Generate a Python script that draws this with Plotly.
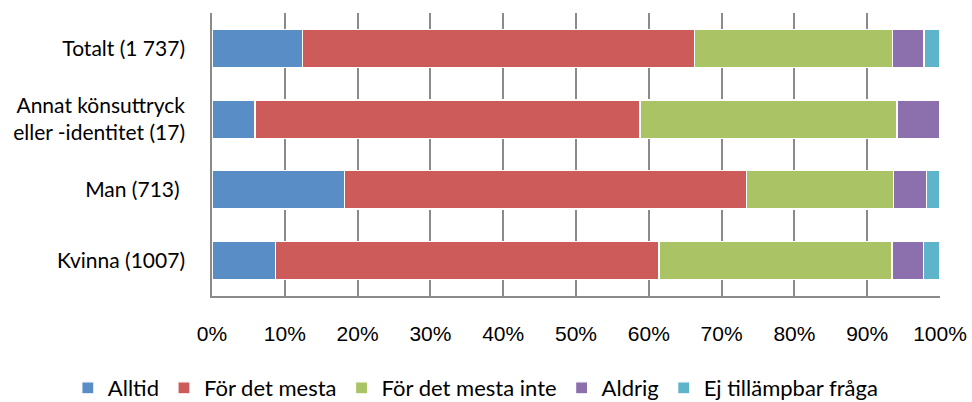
import plotly.graph_objects as go

categories = ["Totalt (1 737)", "Annat könsuttryck<br>eller -identitet (17)", "Man (713) ", "Kvinna (1007)"]
series_names = ["Alltid", "För det mesta", "För det mesta inte", "Aldrig", "Ej tillämpbar fråga"]
alltid = [12.4, 5.9, 18.2, 8.7]
for_det_mesta = [53.9, 52.9, 55.2, 52.7]
for_det_mesta_inte = [27.2, 35.3, 20.2, 32.0]
aldrig = [4.3, 5.9, 4.5, 4.3]
ej_tillampbar = [2.2, 0.0, 1.9, 2.3]
colors = ["#598DC6", "#CC5B5A", "#AAC465", "#8C6FAD", "#5EB5CB"]
tick_vals = [0, 0.1, 0.2, 0.3, 0.4, 0.5, 0.6, 0.7, 0.8, 0.9, 1.0]
tick_text = ["0%", "10%", "20%", "30%", "40%", "50%", "60%", "70%", "80%", "90%", "100%"]

values = [alltid, for_det_mesta, for_det_mesta_inte, aldrig, ej_tillampbar]

fig = go.Figure()
for name, vals, col in zip(series_names, values, colors):
    fig.add_trace(go.Bar(
        y=categories, x=[v / 100 for v in vals], name=name, orientation="h",
        marker=dict(color=col, line=dict(color="white", width=1.2)),
    ))

fig.update_layout(
    barmode="stack", bargap=0.46,
    width=972, height=402,
    margin=dict(l=212, r=32, t=13, b=106, autoexpand=False),
    plot_bgcolor="white", paper_bgcolor="white",
    font=dict(family="Lato", size=21, color="black"),
    showlegend=True,
    legend=dict(orientation="h", x=-0.198, xanchor="left",
                y=-0.325, yanchor="middle",
                font=dict(family="Lato", size=22, color="black"), itemwidth=30,
                traceorder="normal", tracegroupgap=0),
    xaxis=dict(range=[0, 1], tickvals=tick_vals, ticktext=tick_text,
               showgrid=True, gridcolor="#8A8A8A", gridwidth=1.6,
               showline=True, linecolor="#8A8A8A", linewidth=1.6,
               tickfont=dict(family="Liberation Sans", size=21, color="black"),
               ticklabelstandoff=18, zeroline=False, fixedrange=True, automargin=False),
    yaxis=dict(autorange="reversed", showline=True, linecolor="#8A8A8A", linewidth=1.6,
               tickfont=dict(family="Lato", size=21, color="black"),
               ticklabelstandoff=21, fixedrange=True, automargin=False),
)

fig.write_html("out.html", config={"displayModeBar": False},
               post_script="document.body.style.margin='0';")
